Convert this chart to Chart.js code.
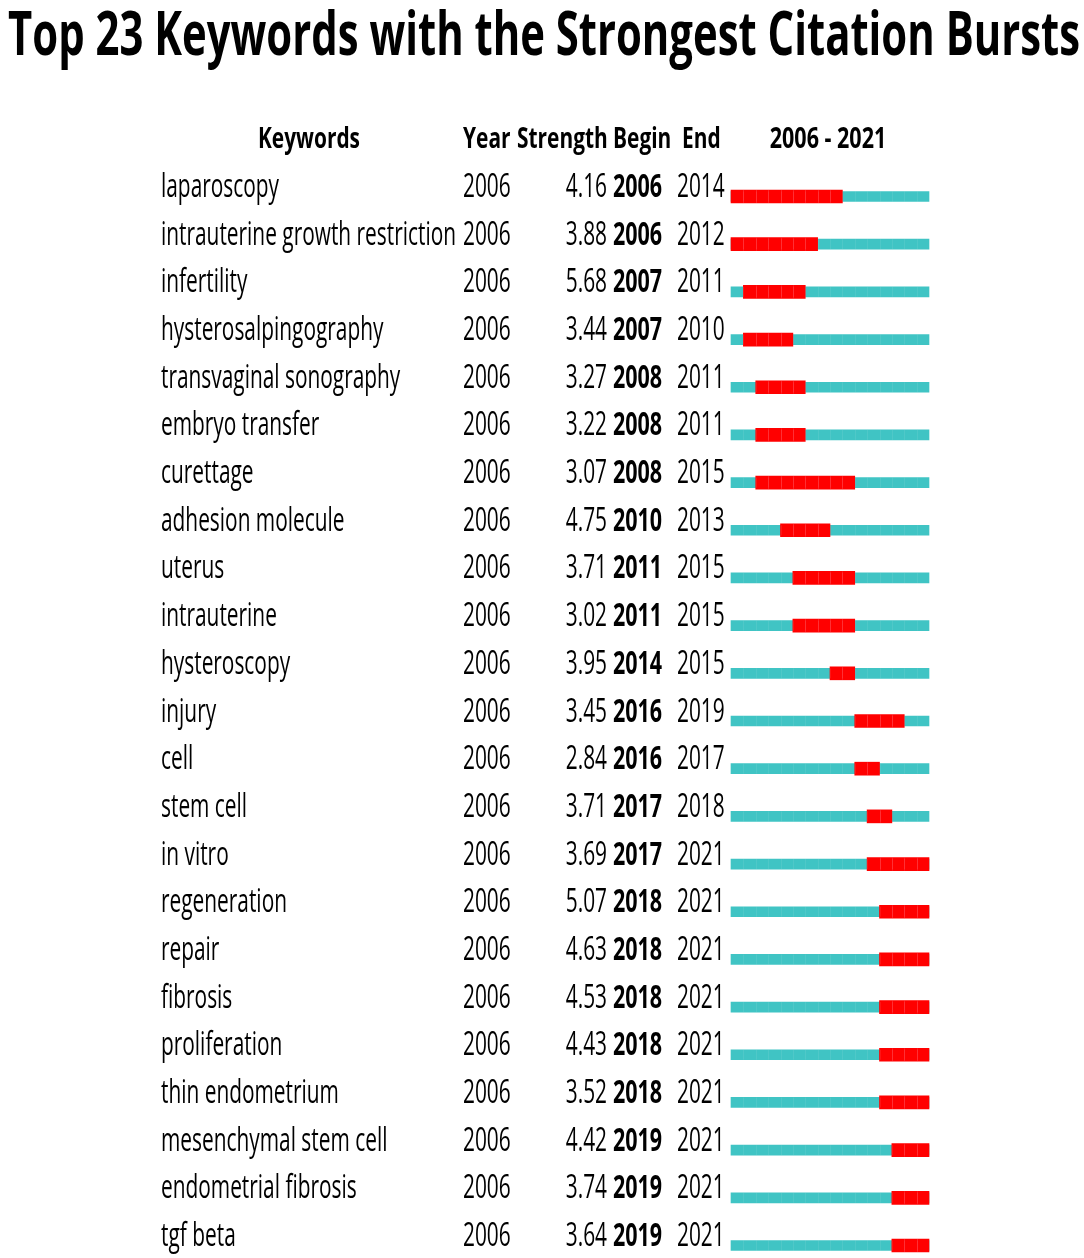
<!DOCTYPE html>
<html>
<head>
<meta charset="utf-8">
<script src="https://cdn.jsdelivr.net/npm/chart.js@4/dist/chart.umd.min.js"></script>
<style>
  html, body { margin: 0; padding: 0; background: #ffffff; }
  #wrap { width: 1084px; height: 1258px; position: relative; }
</style>
</head>
<body>
<div id="wrap"><canvas id="c"></canvas></div>
<script>
const titleText = "Top 23 Keywords with the Strongest Citation Bursts";
const headers = ["Keywords", "Year", "Strength", "Begin", "End"];
const timelineStart = 2006;
const timelineEnd = 2021;
const keywords = [
  "laparoscopy", "intrauterine growth restriction", "infertility", "hysterosalpingography",
  "transvaginal sonography", "embryo transfer", "curettage", "adhesion molecule", "uterus",
  "intrauterine", "hysteroscopy", "injury", "cell", "stem cell", "in vitro", "regeneration",
  "repair", "fibrosis", "proliferation", "thin endometrium", "mesenchymal stem cell",
  "endometrial fibrosis", "tgf beta"
];
const years = [2006,2006,2006,2006,2006,2006,2006,2006,2006,2006,2006,2006,2006,2006,2006,2006,2006,2006,2006,2006,2006,2006,2006];
const strengths = ["4.16","3.88","5.68","3.44","3.27","3.22","3.07","4.75","3.71","3.02","3.95","3.45","2.84","3.71","3.69","5.07","4.63","4.53","4.43","3.52","4.42","3.74","3.64"];
const begins = [2006,2006,2007,2007,2008,2008,2008,2010,2011,2011,2014,2016,2016,2017,2017,2018,2018,2018,2018,2018,2019,2019,2019];
const ends = [2014,2012,2011,2010,2011,2011,2015,2013,2015,2015,2015,2019,2017,2018,2021,2021,2021,2021,2021,2021,2021,2021,2021];

const TEAL = "#40c4c4";
const RED = "#ff0000";
const FONT = "'Open Sans', 'Noto Sans', 'DejaVu Sans', sans-serif";

function drawScaled(ctx, text, x, y, sx, align) {
  ctx.save();
  ctx.translate(x, y);
  ctx.scale(sx, 1);
  ctx.textAlign = align || "left";
  ctx.fillText(text, 0, 0);
  ctx.restore();
}

const textPlugin = {
  id: "burstText",
  afterDatasetsDraw(chart) {
    const ctx = chart.ctx;
    const yScale = chart.scales.y;
    const xScale = chart.scales.x;
    const area = chart.chartArea;

    // very faint year cell separators on bars
    ctx.save();
    chart.data.datasets.forEach((ds, di) => {
      const meta = chart.getDatasetMeta(di);
      meta.data.forEach((bar, i) => {
        const [a, b] = ds.data[i];
        const h = bar.height;
        for (let yr = a + 1; yr < b; yr++) {
          const px = Math.round(xScale.getPixelForValue(yr)) + 0.5;
          ctx.strokeStyle = di === 0 ? "rgba(255,110,130,0.28)" : "rgba(255,255,255,0.08)";
          ctx.lineWidth = 1;
          ctx.beginPath();
          ctx.moveTo(px, bar.y - h / 2);
          ctx.lineTo(px, bar.y + h / 2);
          ctx.stroke();
        }
      });
    });
    ctx.restore();

    ctx.save();
    ctx.fillStyle = "#000000";
    ctx.textBaseline = "alphabetic";

    // Title
    ctx.font = "bold 61px " + FONT;
    const tw = ctx.measureText(titleText).width;
    drawScaled(ctx, titleText, 8, 55, 1072 / tw, "left");

    // Header
    ctx.font = "bold 28px " + FONT;
    const hs = 102 / ctx.measureText("Keywords").width;
    const hy = 148;
    drawScaled(ctx, headers[0], 309, hy, hs, "center");
    drawScaled(ctx, headers[1], 463, hy, hs, "left");
    drawScaled(ctx, headers[2], 517, hy, hs, "left");
    drawScaled(ctx, headers[3], 613, hy, hs, "left");
    drawScaled(ctx, headers[4], 682, hy, hs, "left");
    const rangeText = timelineStart + " - " + timelineEnd;
    drawScaled(ctx, rangeText, 828, hy, hs * 1.03, "center");

    // Rows
    ctx.font = "32px " + FONT;
    const bs = 295 / ctx.measureText(keywords[1]).width;
    keywords.forEach((kw, i) => {
      const y = yScale.getPixelForValue(i) + 0.5;
      ctx.font = "32px " + FONT;
      drawScaled(ctx, kw, 161, y, bs, "left");
      drawScaled(ctx, String(years[i]), 463, y, bs, "left");
      drawScaled(ctx, strengths[i], 607, y, bs, "right");
      drawScaled(ctx, String(ends[i]), 677, y, bs, "left");
      ctx.font = "bold 32px " + FONT;
      drawScaled(ctx, String(begins[i]), 613, y, bs * 1.03, "left");
    });
    ctx.restore();
  }
};

new Chart(document.getElementById("c"), {
  type: "bar",
  data: {
    labels: keywords,
    datasets: [
      {
        label: "Burst",
        data: begins.map((b, i) => [b, ends[i] + 1]),
        backgroundColor: RED,
        barThickness: 13,
        borderWidth: 0,
        borderSkipped: false,
        order: 0,
        clip: false
      },
      {
        label: "Timeline",
        data: keywords.map(() => [timelineStart, timelineEnd + 1]),
        backgroundColor: TEAL,
        barThickness: 10,
        borderWidth: 0,
        borderSkipped: false,
        order: 1,
        clip: false
      }
    ]
  },
  options: {
    indexAxis: "y",
    responsive: true,
    maintainAspectRatio: false,
    animation: false,
    devicePixelRatio: 1,
    layout: { padding: { left: 731, right: 155, top: 196.5, bottom: 12.5 } },
    scales: {
      x: { type: "linear", min: timelineStart, max: timelineEnd + 1, display: false },
      y: { type: "category", offset: false, display: false, grid: { display: false } }
    },
    datasets: { bar: { grouped: false } },
    plugins: {
      legend: { display: false },
      tooltip: { enabled: false },
      title: { display: false }
    }
  },
  plugins: [textPlugin]
});
</script>
</body>
</html>
